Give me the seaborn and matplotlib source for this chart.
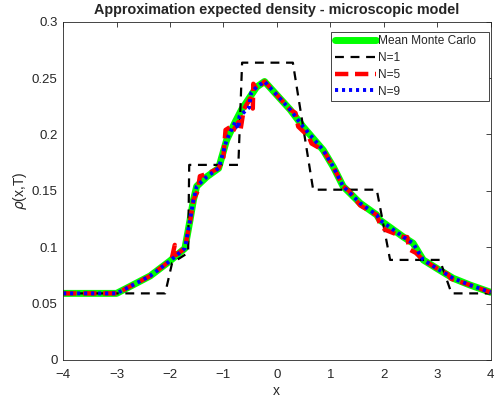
import matplotlib
matplotlib.use("Agg")
import matplotlib.pyplot as plt
import pandas as pd
import seaborn as sns

# Mean Monte Carlo reference curve
mc_x = [-4.0, -3.0, -2.81, -2.37, -2.0, -1.72, -1.625, -1.56, -1.50, -1.31, -1.09,
        -0.94, -0.78, -0.66, -0.50, -0.38, -0.23, 0.0, 0.25, 0.49, 0.87, 1.06,
        1.24, 1.56, 1.87, 1.93, 2.37, 2.55, 2.74, 2.99, 3.30, 3.61, 4.0]
mc_y = [0.059, 0.059, 0.0636, 0.0745, 0.0878, 0.099, 0.124, 0.142, 0.154, 0.1625, 0.170,
        0.195, 0.211, 0.222, 0.2335, 0.242, 0.247, 0.235, 0.222, 0.207, 0.186, 0.171,
        0.154, 0.139, 0.1286, 0.124, 0.109, 0.1035, 0.0887, 0.0813, 0.0724, 0.0665, 0.060]

# N=1 approximation (piecewise constant)
n1_x = [-4.0, -2.09, -1.96, -1.66, -1.64, -0.72, -0.65, 0.30, 0.68, 1.87, 2.12, 3.05, 3.27, 4.0]
n1_y = [0.059, 0.059, 0.086, 0.095, 0.173, 0.173, 0.2637, 0.2637, 0.151, 0.151, 0.0887, 0.0887, 0.059, 0.059]

# N=5 approximation
n5_x = [-4.0, -3.0, -2.81, -2.37, -1.97, -1.91, -1.89, -1.72, -1.62, -1.56, -1.48, -1.44,
        -1.31, -1.09, -1.0, -0.96, -0.86, -0.82, -0.72, -0.68, -0.62, -0.50, -0.45, -0.44,
        -0.38, -0.23, 0.0, 0.25, 0.35, 0.40, 0.60, 0.65, 0.87, 1.06, 1.24, 1.35, 1.56,
        1.87, 1.95, 2.05, 2.37, 2.44, 2.48, 2.60, 2.74, 2.99, 3.20, 3.26, 3.61, 4.0]
n5_y = [0.059, 0.059, 0.0636, 0.0745, 0.089, 0.102, 0.093, 0.099, 0.124, 0.142, 0.150, 0.163,
        0.165, 0.170, 0.180, 0.204, 0.207, 0.203, 0.211, 0.204, 0.222, 0.232, 0.223, 0.245,
        0.240, 0.247, 0.235, 0.222, 0.219, 0.207, 0.198, 0.192, 0.186, 0.171, 0.154, 0.150, 0.137,
        0.1286, 0.118, 0.115, 0.109, 0.109, 0.098, 0.095, 0.0887, 0.0813, 0.076, 0.072, 0.0665, 0.060]

# N=9 approximation
n9_x = [-4.0, -3.0, -2.81, -2.37, -2.0, -1.72, -1.625, -1.56, -1.50, -1.31, -1.09,
        -0.94, -0.78, -0.72, -0.70, -0.52, -0.48, -0.38, -0.23, 0.0, 0.25, 0.49, 0.87, 1.06,
        1.24, 1.56, 1.87, 1.93, 2.37, 2.55, 2.74, 2.99, 3.30, 3.61, 4.0]
n9_y = [0.059, 0.059, 0.0636, 0.0745, 0.0878, 0.099, 0.124, 0.142, 0.154, 0.1625, 0.170,
        0.195, 0.211, 0.205, 0.216, 0.224, 0.237, 0.242, 0.247, 0.235, 0.222, 0.207, 0.186, 0.171,
        0.154, 0.139, 0.1286, 0.124, 0.109, 0.1035, 0.0887, 0.0813, 0.0724, 0.0665, 0.060]

series = [
    ("Mean Monte Carlo", mc_x, mc_y, dict(color="#00ff00", linewidth=5, linestyle="-")),
    ("N=1", n1_x, n1_y, dict(color="black", linewidth=1.6, linestyle=(0, (4, 3)))),
    ("N=5", n5_x, n5_y, dict(color="red", linewidth=3.2, linestyle=(0, (3, 1.5)))),
    ("N=9", n9_x, n9_y, dict(color="blue", linewidth=2.8, linestyle=(0, (0.8, 1.0)))),
]

sns.set_style("white")
plt.rcParams["font.family"] = ["Liberation Sans", "DejaVu Sans"]
plt.rcParams["xtick.direction"] = "in"
plt.rcParams["ytick.direction"] = "in"

fig = plt.figure(figsize=(4.97, 4.03), dpi=100)
ax = fig.add_axes([0.127, 0.107, 0.860, 0.839])

for name, xs, ys, style in series:
    df = pd.DataFrame({"x": xs, "y": ys})
    sns.lineplot(data=df, x="x", y="y", ax=ax, sort=False, estimator=None,
                 label=name, **style)

ax.set_xlim(-4, 4)
ax.set_ylim(0, 0.3)
ax.set_xticks(range(-4, 5))
ax.set_yticks([0, 0.05, 0.1, 0.15, 0.2, 0.25, 0.3])
ax.set_yticklabels(["0", "0.05", "0.1", "0.15", "0.2", "0.25", "0.3"])
ax.tick_params(axis="both", which="both", top=True, right=True, labelsize=9.5,
               colors="#262626", length=3.5, width=0.6)
ax.tick_params(axis="x", pad=6.5)
ax.tick_params(axis="y", pad=4)
for spine in ax.spines.values():
    spine.set_color("#262626")
    spine.set_linewidth(0.6)

ax.set_xlabel("x", fontsize=10, color="#262626", labelpad=2)
ax.set_ylabel(r"$\rho$(x,T)", fontsize=10, color="#262626", labelpad=2)
ax.set_title("Approximation expected density - microscopic model",
             fontsize=10.4, fontweight="bold", pad=5.5)

handles, labels = ax.get_legend_handles_labels()
# MATLAB leaves extra room to the right of the legend text
labels = [lab + "   " if lab == "Mean Monte Carlo" else lab for lab in labels]
leg = ax.legend(handles, labels, loc="upper right", fontsize=8.6, handlelength=3.4,
                handletextpad=0.2, borderpad=0.3, labelspacing=0.4, fancybox=False,
                framealpha=1, borderaxespad=0,
                bbox_to_anchor=(489.3 / 497, 1 - 31.7 / 403),
                bbox_transform=fig.transFigure)
leg.get_frame().set_edgecolor("#262626")
leg.get_frame().set_linewidth(0.6)

fig.savefig("out.png", dpi=100)
